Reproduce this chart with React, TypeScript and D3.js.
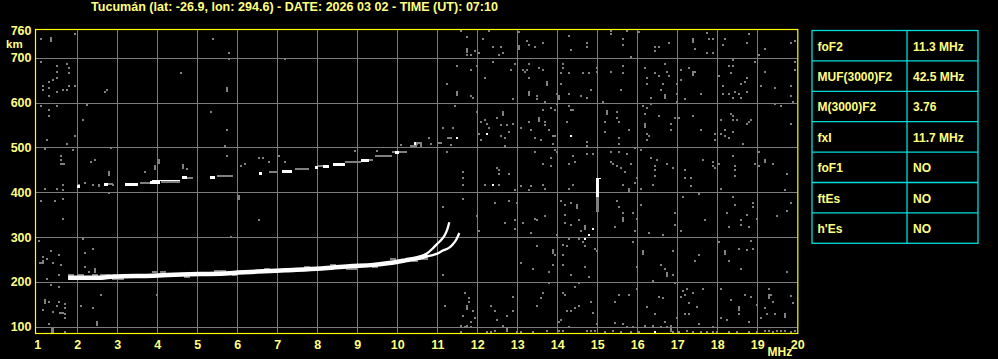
import React, { useEffect } from 'react';
import * as d3 from 'd3';

const W = 998;
const H = 359;

const titleText = 'Tucumán (lat: -26.9, lon: 294.6) - DATE: 2026 03 02 - TIME (UT): 07:10';
const freqTicks = d3.range(1, 21);
const heightTicks = [100, 200, 300, 400, 500, 600, 700, 760];
const gridHeights = [100, 200, 300, 400, 500, 600, 700];
const gridFreqs = d3.range(2, 20);

const paramNames = ['foF2', 'MUF(3000)F2', 'M(3000)F2', 'fxI', 'foF1', 'ftEs', "h'Es"];
const paramValues = ['11.3 MHz', '42.5 MHz', '3.76', '11.7 MHz', 'NO', 'NO', 'NO'];

// F2 ordinary trace (thick part) [MHz, km]
const f2Trace: [number, number][] = [
  [1.77, 209], [2.6, 209.5], [2.9, 212], [3.9, 214], [4.6, 216.5], [5.7, 219], [6.5, 223],
  [7.2, 226], [8.1, 230], [8.8, 235], [9.4, 238], [9.8, 242], [10.2, 248], [10.5, 253], [10.75, 260],
];
const oBranch: [number, number][] = [
  [10.5, 254], [10.75, 264], [10.9, 276], [11.0, 285], [11.1, 294], [11.19, 305], [11.25, 317], [11.3, 333],
];
const xBranch: [number, number][] = [
  [10.5, 251], [10.8, 258], [11.0, 263], [11.14, 270], [11.29, 276], [11.39, 284], [11.49, 297], [11.55, 309],
];
const traceHalo: [number, number][] = [
  [1.84, 216], [2.09, 216], [2.44, 216], [2.64, 216], [2.74, 216], [2.94, 207], [3.09, 207], [3.94, 221],
  [4.14, 221], [4.74, 212], [5.49, 225], [5.64, 225], [5.94, 216], [6.74, 229], [7.74, 234], [8.39, 238],
  [8.79, 229], [8.94, 229], [9.44, 234], [9.89, 252], [10.44, 247], [10.69, 252],
];

// second hop echo segments [fStart, fEnd, km]
const hop2Bright: [number, number, number][] = [
  [1.98, 2.07, 415], [2.67, 2.78, 419], [3.18, 3.53, 419], [3.82, 4.07, 422], [4.61, 4.75, 433],
  [5.32, 5.44, 435], [6.53, 6.62, 442], [7.11, 7.36, 447], [7.94, 8.02, 457], [8.15, 8.3, 459],
  [8.4, 8.69, 463], [9.1, 9.3, 472], [9.95, 10.05, 489], [10.42, 10.46, 509],
];
const hop2Dim: [number, number, number][] = [
  [2.78, 2.9, 418], [3.57, 3.82, 421], [4.1, 4.57, 424], [4.75, 4.9, 432], [5.48, 5.9, 437],
  [6.78, 6.98, 445], [7.44, 7.78, 451], [8.02, 8.15, 458], [8.69, 9.1, 468], [9.3, 9.4, 473],
  [9.44, 9.86, 482], [9.86, 10.23, 489], [10.32, 10.5, 504], [10.46, 10.62, 510],
];
const hop2Thin: [number, number, number][] = [[3.86, 4.57, 428]];

// vertical spike
const spikeFreq = [15.03];
const spikeTop = [429];
const spikeBrightBottom = [389];
const spikeBottom = [355];

const brightDots: [number, number][] = [
  [11.49, 522], [12.24, 531], [14.34, 526], [12.39, 417], [14.89, 319], [14.79, 305], [14.69, 296], [16.44, 89],
];
const tallDots: [number, number][] = [
  [1.34, 742], [11.74, 718], [13.04, 725], [17.39, 740], [11.49, 622], [13.74, 644], [13.29, 622], [14.04, 613],
  [16.69, 615], [17.39, 667], [12.64, 577], [13.54, 564], [15.24, 580], [16.19, 551], [5.74, 630], [6.04, 390],
  [2.44, 227], [1.19, 157], [1.39, 93], [2.49, 109], [15.79, 404], [14.49, 370], [14.69, 323], [15.64, 341],
  [13.89, 270], [16.14, 267], [16.74, 218], [18.19, 267], [18.54, 141], [19.29, 169], [19.69, 127], [11.74, 145],
  [10.59, 508], [3.94, 457], [4.04, 470], [4.64, 459], [2.79, 442], [12.74, 95], [16.84, 95], [1.36, 92],
];
const wideDots: [number, number][] = [[1.62, 464], [1.59, 131], [1.09, 243], [11.29, 522], [11.04, 511]];

const noiseLowFreq: [number, number][] = [
  [1.09, 742], [1.95, 752], [1.09, 691], [1.49, 682], [1.74, 687], [1.79, 678], [1.49, 669], [1.79, 665],
  [1.39, 651], [1.29, 647], [1.49, 656], [1.14, 638], [1.29, 633], [1.14, 629], [1.49, 624], [1.64, 629],
  [1.74, 629], [1.79, 636], [1.94, 638], [1.29, 615], [1.09, 593], [1.49, 593], [1.29, 584], [1.29, 571],
  [2.24, 595], [2.14, 562], [1.94, 526], [1.24, 517], [1.74, 508], [1.19, 496], [1.89, 495], [1.59, 482],
  [1.59, 473], [2.34, 468], [2.44, 473], [2.84, 499], [2.69, 624], [2.74, 629], [4.59, 665], [5.39, 742],
  [5.79, 711], [5.79, 697], [5.34, 580], [5.74, 540], [5.69, 504], [5.74, 482], [7.19, 697], [10.79, 522],
  [10.84, 508], [4.74, 453], [3.69, 446], [6.09, 459], [6.19, 464], [6.54, 477], [6.64, 477], [6.79, 468],
  [7.04, 482], [7.19, 468], [8.94, 493], [9.49, 493], [10.09, 505], [10.49, 508],
  [1.19, 407], [1.64, 417], [1.64, 404], [1.49, 407], [1.44, 381], [1.09, 381], [1.64, 386], [1.64, 341],
  [2.04, 417], [2.19, 421], [2.39, 417], [2.54, 417], [2.54, 413], [2.79, 399], [2.89, 417], [1.04, 292],
  [1.34, 270], [1.24, 252], [1.14, 256], [1.14, 247], [1.39, 243], [1.54, 261], [1.59, 238], [1.54, 216],
  [1.24, 207], [2.14, 296], [2.19, 265], [2.39, 274], [2.19, 234], [2.29, 221], [1.34, 194], [1.54, 189],
  [1.29, 156], [1.49, 147], [1.54, 156], [1.69, 151], [1.69, 142], [1.14, 138], [1.39, 133], [1.69, 129],
  [1.69, 120], [1.29, 107], [1.69, 89], [2.09, 147], [2.39, 142], [2.59, 171], [3.99, 171], [6.54, 337],
  [5.84, 301],
];

const noiseHighUpper: [number, number][] = [
  [11.59, 760], [11.74, 747], [11.74, 707], [11.84, 707], [11.94, 716], [12.04, 711], [12.29, 760], [12.39, 725],
  [12.54, 707], [12.59, 725], [12.64, 711], [12.14, 743], [13.04, 758], [13.24, 738], [13.29, 729], [13.44, 725],
  [13.64, 734], [14.29, 749], [14.34, 717], [14.74, 734], [14.74, 725], [15.34, 760], [15.34, 752], [15.64, 743],
  [15.64, 729], [15.74, 760], [16.04, 758], [16.44, 725], [16.44, 716], [16.54, 725], [16.79, 734], [15.84, 702],
  [17.44, 720], [17.74, 756], [17.79, 743], [17.89, 743], [17.74, 711], [17.89, 711], [18.19, 743], [18.14, 729],
  [18.79, 752], [18.74, 734], [19.19, 720], [19.84, 734], [19.04, 707], [19.94, 738],
  [11.49, 682], [11.84, 673], [11.99, 682], [12.19, 656], [12.39, 691], [11.24, 642], [11.84, 615], [11.89, 611],
  [12.94, 687], [12.84, 673], [13.14, 673], [13.19, 669], [13.24, 673], [13.29, 687], [13.29, 656], [13.54, 678],
  [13.64, 673], [13.49, 615], [13.49, 607], [12.89, 607], [13.69, 602], [13.99, 620], [14.14, 687], [14.14, 678],
  [14.09, 665], [14.29, 665], [14.64, 665], [14.79, 665], [14.99, 669], [14.09, 642], [14.29, 620], [14.59, 615],
  [14.74, 611], [14.84, 629], [14.99, 678], [15.34, 669], [15.64, 682], [15.64, 665], [15.59, 629], [15.14, 602],
  [16.19, 678], [16.24, 656], [16.24, 642], [16.44, 665], [16.54, 660], [16.64, 642], [16.59, 629], [16.69, 687],
  [16.74, 669], [16.79, 660], [16.99, 642], [16.99, 620], [16.99, 602], [16.34, 611], [17.09, 673], [17.09, 651],
  [17.29, 678], [17.44, 669], [17.19, 607], [17.59, 620], [18.04, 660], [18.14, 638], [18.14, 620], [18.29, 620],
  [18.29, 682], [18.39, 696], [18.39, 682], [18.34, 665], [18.59, 642], [18.69, 647], [18.74, 656], [18.74, 624],
  [18.44, 624], [18.54, 620], [18.59, 611], [18.39, 611], [18.94, 691], [19.19, 669], [19.09, 638], [19.44, 633],
  [19.84, 638], [19.84, 615], [19.89, 602], [19.95, 691], [19.95, 673],
];

const noiseHighMid: [number, number][] = [
  [11.44, 593], [11.14, 544], [11.39, 544], [11.34, 505], [11.99, 580], [12.09, 557], [12.19, 562], [12.24, 553],
  [12.29, 544], [12.04, 531], [12.09, 517], [12.49, 566], [12.59, 549], [12.74, 549], [12.89, 553], [12.79, 535],
  [12.59, 526], [12.69, 522], [12.69, 504], [13.64, 584], [13.84, 589], [13.94, 584], [13.99, 598], [13.69, 557],
  [13.69, 549], [13.29, 557], [13.09, 544], [13.34, 540], [13.44, 522], [13.59, 517], [13.79, 540], [13.89, 526],
  [13.94, 526], [13.89, 508], [14.29, 593], [14.34, 584], [14.39, 584], [14.24, 557], [14.74, 513], [14.74, 504],
  [15.19, 557], [15.49, 580], [15.49, 566], [15.54, 557], [15.79, 540], [15.19, 535], [15.54, 522], [15.54, 508],
  [16.14, 593], [16.24, 589], [16.34, 598], [16.19, 575], [16.24, 531], [16.29, 526], [16.24, 517], [16.54, 571],
  [16.84, 553], [16.94, 566], [17.04, 566], [16.84, 540], [17.39, 571], [17.59, 540], [17.94, 531], [17.94, 517],
  [18.09, 562], [18.19, 540], [18.19, 526], [18.34, 575], [18.39, 571], [18.39, 562], [18.49, 562], [18.74, 553],
  [18.79, 557], [18.84, 562], [18.29, 522], [18.39, 535], [18.64, 508], [19.44, 598], [19.59, 593], [19.84, 553],
  [18.09, 531],
  [11.24, 490], [11.64, 446], [11.64, 432], [12.49, 455], [12.54, 450], [12.54, 441], [12.79, 441], [13.44, 490],
  [13.64, 464], [13.84, 477], [13.84, 459], [13.94, 495], [13.99, 490], [14.39, 481], [14.44, 468], [14.29, 464],
  [14.74, 486], [14.89, 486], [15.34, 490], [15.34, 468], [15.39, 464], [15.54, 490], [15.49, 459], [15.59, 455],
  [15.74, 486], [15.69, 446], [15.84, 464], [15.94, 499], [15.99, 432], [16.09, 495], [16.34, 477], [16.49, 472],
  [16.44, 459], [16.44, 450], [16.44, 437], [16.74, 464], [16.89, 455], [17.19, 450], [17.19, 432], [17.34, 432],
  [17.64, 472], [17.89, 468], [17.89, 459], [17.94, 455], [18.04, 464], [18.39, 481], [18.44, 459], [18.44, 450],
  [18.44, 437], [19.04, 490], [19.19, 472], [19.19, 468], [18.94, 464], [19.04, 459], [19.39, 464], [19.74, 441],
];

const noiseHighLower: [number, number][] = [
  [11.64, 417], [12.19, 417], [12.54, 417], [13.09, 413], [13.34, 413], [13.64, 417], [12.94, 404], [13.29, 404],
  [13.69, 408], [14.39, 417], [14.29, 408], [15.64, 417], [15.94, 421], [16.09, 408], [16.39, 417], [17.34, 413],
  [18.09, 408], [19.69, 404], [11.14, 368], [11.99, 346], [12.04, 314], [11.64, 386], [12.44, 377], [12.79, 381],
  [12.99, 377], [12.69, 332], [12.94, 337], [12.94, 319], [13.14, 332], [13.34, 310], [13.44, 341], [13.49, 337],
  [13.69, 346], [14.09, 381], [14.19, 372], [14.34, 377], [14.19, 350], [14.19, 332], [14.34, 328], [14.54, 337],
  [14.59, 314], [14.54, 296], [14.29, 296], [13.99, 305], [14.14, 283], [14.24, 279], [14.64, 288], [14.69, 279],
  [15.49, 381], [15.54, 368], [15.64, 354], [15.44, 323], [15.89, 354], [15.99, 341], [15.94, 314], [16.09, 372],
  [16.29, 310], [16.64, 305], [16.94, 354], [16.94, 328], [17.09, 314], [17.14, 390], [17.54, 395], [17.69, 337],
  [18.39, 390], [18.89, 377], [18.89, 368], [19.84, 377], [19.74, 359], [19.49, 346], [18.74, 350], [18.24, 354],
  [18.29, 323], [18.59, 328], [18.79, 323], [18.99, 341], [18.44, 372], [18.59, 337],
  [11.14, 216], [11.19, 147], [11.69, 176], [11.79, 163], [11.79, 156], [11.89, 134], [11.94, 120], [11.84, 111],
  [11.64, 125], [11.59, 102], [11.74, 102], [12.44, 134], [12.34, 147], [12.49, 116], [12.74, 125], [12.64, 102],
  [12.89, 166], [12.89, 134], [13.09, 243], [13.39, 229], [13.49, 279], [13.79, 198], [13.64, 176], [13.59, 163],
  [13.49, 147], [13.94, 261], [13.89, 238], [13.79, 221], [14.14, 261], [14.69, 234], [14.79, 212], [14.94, 274],
  [14.99, 270], [14.89, 131], [14.99, 105], [14.54, 147], [14.34, 134], [14.44, 142], [14.24, 136], [14.04, 111],
  [14.09, 116], [14.44, 189], [14.34, 216], [14.14, 238], [14.14, 176], [14.19, 171], [14.54, 198], [14.84, 156],
  [15.44, 109], [15.64, 107], [15.54, 171], [15.44, 156], [15.79, 171], [15.89, 100], [15.99, 185], [15.89, 288],
  [15.99, 234], [16.59, 238], [16.89, 216], [16.89, 270], [16.69, 229], [16.39, 203], [16.54, 167], [16.64, 163],
  [16.24, 145], [16.44, 129], [16.69, 111], [16.39, 102], [16.84, 102], [16.99, 120], [17.14, 180], [17.19, 171],
  [17.24, 185], [17.09, 167], [17.29, 154], [17.64, 185], [17.49, 145], [17.29, 129], [17.19, 129], [17.54, 107],
  [17.44, 247], [17.54, 261], [16.94, 198], [17.39, 176], [18.04, 288], [18.29, 247], [18.54, 274], [18.59, 229],
  [18.74, 272], [18.84, 292], [18.89, 274], [18.09, 185], [18.09, 120], [18.34, 160], [18.54, 129], [18.69, 171],
  [18.84, 167], [19.29, 185], [19.34, 171], [19.19, 142], [19.24, 129], [19.44, 129], [19.09, 120], [19.74, 221],
  [18.99, 149], [18.79, 111], [18.24, 116], [17.89, 100], [19.89, 154], [19.39, 156], [19.84, 169],
];

const noiseBottom: [number, number][] = [
  [1.69, 88], [11.59, 89], [11.69, 100], [11.84, 100], [12.24, 89], [12.34, 89], [12.44, 91], [12.99, 89],
  [13.09, 89], [13.39, 89], [13.74, 91], [14.04, 91], [14.14, 91], [14.29, 100], [14.74, 91], [14.84, 91],
  [14.94, 91], [15.19, 89], [15.39, 91], [15.59, 89], [15.74, 100], [15.84, 89], [16.04, 89], [16.19, 102],
  [16.59, 100], [16.74, 100], [16.89, 89], [17.04, 89], [17.24, 91], [17.39, 89], [17.59, 89], [17.74, 89],
  [17.89, 89], [17.99, 89], [18.29, 89], [18.49, 89], [18.79, 89], [18.99, 89], [19.19, 91], [19.29, 91],
  [19.39, 89], [19.49, 91], [19.59, 91], [19.69, 91], [19.84, 89], [19.94, 91],
];

const allNoise = [...noiseLowFreq, ...noiseHighUpper, ...noiseHighMid, ...noiseHighLower, ...noiseBottom];

const YELLOW = '#ffff80';
const BORDER = '#ffff00';
const GRID = '#7c7c7c';
const DOT = '#808080';
const CYAN = '#00dcdc';
const FONT = "'Liberation Sans', Arial, sans-serif";

export default function App() {
  useEffect(() => {
    document.body.style.margin = '0';
    document.body.style.background = '#000';
  }, []);

  const x = d3.scaleLinear().domain([1, 20]).range([37.3, 797.3]);
  const y = d3.scaleLinear().domain([86, 762]).range([333, 30]);

  const [x0, x1] = x.range();
  const [yB, yT] = y.range();

  const line = d3
    .line<[number, number]>()
    .x((d) => x(d[0]))
    .y((d) => y(d[1]))
    .curve(d3.curveMonotoneX);

  const px = (f: number) => Math.round(x(f));
  const py = (h: number) => Math.round(y(h));

  // table geometry
  const tLeft = 812;
  const tMid = 907;
  const tRight = 978;
  const tTop = 30.5;
  const rowH = 30.4;

  return (
    <div style={{ position: 'fixed', left: 0, top: 0, width: W, height: H, background: '#000' }}>
      <svg width={W} height={H} style={{ display: 'block' }}>
        <rect x={0} y={0} width={W} height={H} fill="#000" />

        {/* grid */}
        <g shapeRendering="crispEdges" stroke={GRID} strokeWidth={1}>
          {gridFreqs.map((f) => (
            <line key={'gv' + f} x1={Math.round(x(f)) + 0.5} x2={Math.round(x(f)) + 0.5} y1={yT} y2={yB} />
          ))}
          {gridHeights.map((h) => (
            <line key={'gh' + h} x1={x0 - 1.5} x2={x1} y1={Math.round(y(h)) + 0.5} y2={Math.round(y(h)) + 0.5} />
          ))}
        </g>

        {/* noise */}
        <g shapeRendering="crispEdges" fill={DOT}>
          {allNoise.map(([f, h], i) => (
            <rect key={'n' + i} x={px(f) - 1} y={py(h) - 1} width={2} height={2} />
          ))}
          {tallDots.map(([f, h], i) => (
            <rect key={'t' + i} x={px(f) - 1} y={py(h) - 2} width={2} height={5} />
          ))}
          {wideDots.map(([f, h], i) => (
            <rect key={'w' + i} x={px(f) - 2} y={py(h) - 1} width={5} height={2} />
          ))}
          {traceHalo.map(([f, h], i) => (
            <rect key={'hl' + i} x={px(f) - 3} y={py(h) - 1} width={6} height={2} />
          ))}
          {hop2Dim.map(([f1, f2, h], i) => (
            <rect key={'hd' + i} x={px(f1)} y={py(h) - 1} width={Math.max(2, px(f2) - px(f1))} height={2} />
          ))}
        </g>

        {/* second hop bright */}
        <g shapeRendering="crispEdges" fill="#fff">
          {hop2Bright.map(([f1, f2, h], i) => (
            <rect key={'hb' + i} x={px(f1)} y={py(h) - 1} width={Math.max(2, px(f2) - px(f1))} height={3} />
          ))}
          {hop2Thin.map(([f1, f2, h], i) => (
            <rect key={'ht' + i} x={px(f1)} y={py(h)} width={px(f2) - px(f1)} height={1} />
          ))}
          {brightDots.map(([f, h], i) => (
            <rect key={'b' + i} x={px(f) - 1} y={py(h) - 1} width={2} height={2} />
          ))}
        </g>

        {/* spike */}
        {spikeFreq.map((f, i) => (
          <g key={'sp' + i} shapeRendering="crispEdges">
            <rect x={px(f) - 2} y={py(spikeBrightBottom[i])} width={3} height={py(spikeBottom[i]) - py(spikeBrightBottom[i])} fill={DOT} />
            <rect x={px(f) - 2} y={py(spikeTop[i])} width={3} height={py(spikeBrightBottom[i]) - py(spikeTop[i])} fill="#fff" />
            <rect x={px(f) - 2} y={py(spikeTop[i]) - 1} width={5} height={1} fill="#fff" />
          </g>
        ))}

        {/* F traces */}
        <path d={line(f2Trace) || ''} fill="none" stroke="#fff" strokeWidth={4.5} />
        <path d={line(oBranch) || ''} fill="none" stroke="#fff" strokeWidth={2.3} />
        <path d={line(xBranch) || ''} fill="none" stroke="#fff" strokeWidth={2.3} />

        {/* border */}
        <rect
          x={x0 - 1.8}
          y={yT - 0.5}
          width={x1 - x0 + 2.3}
          height={yB - yT + 1}
          fill="none"
          stroke={BORDER}
          strokeWidth={1.2}
        />

        {/* title */}
        <text
          x={91}
          y={10.5}
          fill={YELLOW}
          fontFamily={FONT}
          fontWeight="bold"
          fontSize={12}
          textLength={407}
          lengthAdjust="spacingAndGlyphs"
        >
          {titleText}
        </text>

        {/* y labels */}
        {heightTicks.map((h) => (
          <text
            key={'yl' + h}
            x={31.5}
            y={y(h) + 4.5}
            fill={YELLOW}
            fontFamily={FONT}
            fontWeight="bold"
            fontSize={12.5}
            textAnchor="end"
          >
            {h}
          </text>
        ))}
        <text x={6} y={48} fill={YELLOW} fontFamily={FONT} fontWeight="bold" fontSize={11.5}>
          km
        </text>

        {/* x labels */}
        {freqTicks.map((f) => (
          <text
            key={'xl' + f}
            x={x(f) + 0.5}
            y={348.5}
            fill={YELLOW}
            fontFamily={FONT}
            fontWeight="bold"
            fontSize={12.5}
            textAnchor="middle"
          >
            {f}
          </text>
        ))}
        <text x={767.5} y={355.5} fill={YELLOW} fontFamily={FONT} fontWeight="bold" fontSize={12}>
          MHz
        </text>

        {/* parameter table */}
        <g stroke={CYAN} strokeWidth={1.3} fill="none">
          <rect x={tLeft} y={tTop} width={tRight - tLeft} height={rowH * paramNames.length} />
          <line x1={tMid} x2={tMid} y1={tTop} y2={tTop + rowH * paramNames.length} />
          {paramNames.slice(1).map((_, i) => (
            <line key={'rl' + i} x1={tLeft} x2={tRight} y1={tTop + rowH * (i + 1)} y2={tTop + rowH * (i + 1)} />
          ))}
        </g>
        {paramNames.map((n, i) => (
          <g key={'row' + i} fill={YELLOW} fontFamily={FONT} fontWeight="bold" fontSize={12}>
            <text x={817.5} y={tTop + rowH * i + 20}>
              {n}
            </text>
            <text x={913} y={tTop + rowH * i + 20}>
              {paramValues[i]}
            </text>
          </g>
        ))}
      </svg>
    </div>
  );
}
